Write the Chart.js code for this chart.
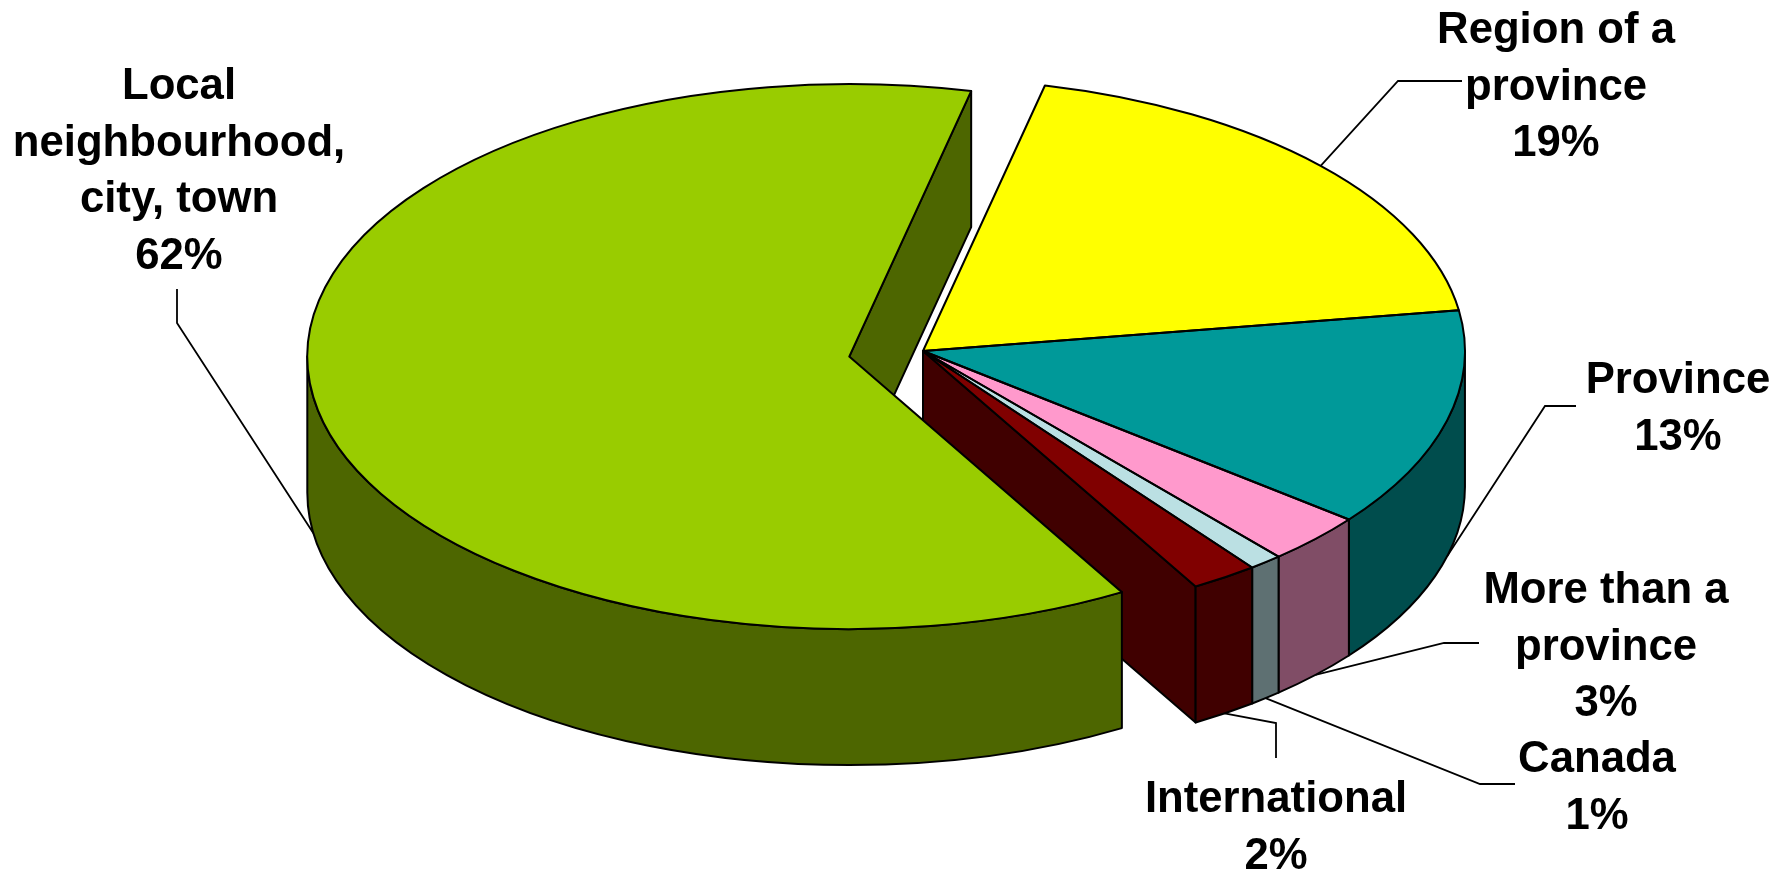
<!DOCTYPE html>
<html>
<head>
<meta charset="utf-8">
<title>Pie</title>
<script src="https://cdn.jsdelivr.net/npm/chart.js@4"></script>
<style>
  html, body { margin: 0; padding: 0; background: #fff; overflow: hidden; }
  canvas { display: block; }
</style>
</head>
<body>
<canvas id="myChart" width="1788" height="872"></canvas>
<script>
// data
const categories = [
  ['Region of a', 'province'],
  ['Province'],
  ['More than a', 'province'],
  ['Canada'],
  ['International'],
  ['Local', 'neighbourhood,', 'city, town']
];
const shares = [19, 13, 3, 1, 2, 62];
const topColors = ['#ffff00', '#009999', '#ff99cc', '#bbe0e3', '#800000', '#99cc00'];
const sideColors = ['#808000', '#004d4d', '#804d66', '#5e7072', '#400000', '#4d6600'];

// label placement: centre x and first baseline
const labelX = [1556, 1678, 1606, 1597, 1276, 179];
const labelY = [43, 393, 603, 772, 812, 99];
const LINE_HEIGHT = 56.5;
// leader lines: elbow points after the point on the slice edge
const leaderElbows = [
  [[1398, 81], [1462, 81]],
  [[1545, 406], [1576, 406]],
  [[1444, 643], [1479, 643]],
  [[1480, 784], [1515, 784]],
  [[1276, 723], [1276, 758]],
  [[177, 323], [177, 289]]
];

// fake 3d: the round pie is squashed and moved with these
const PIE_X = 923;
const PIE_Y = 351;
const SCALE_X = 1.243;
const SCALE_Y = 0.625;
const DEPTH = 136;
const EXPLODE = 60;       // how far the big slice is pulled out
const EXPLODED = 5;
const FRONT_FACES = [5, 4];   // cut faces that can be seen

function toScreen (chart, x, y)
{
  const area = chart.chartArea;
  const midX = (area.left + area.right) / 2;
  const midY = (area.top + area.bottom) / 2;
  return { x: PIE_X + (x - midX) * SCALE_X, y: PIE_Y + (y - midY) * SCALE_Y };
}

function arcInfo (chart, arc)
{
  const c = toScreen(chart, arc.x, arc.y);
  return {
    x: c.x,
    y: c.y,
    rx: arc.outerRadius * SCALE_X,
    ry: arc.outerRadius * SCALE_Y,
    start: arc.startAngle,
    end: arc.endAngle
  };
}

function drawWall (ctx, a, color)
{
  const lo = Math.max(a.start, 0);
  const hi = Math.min(a.end, Math.PI);
  if (hi <= lo) return;
  ctx.beginPath();
  ctx.ellipse(a.x, a.y, a.rx, a.ry, 0, lo, hi);
  ctx.ellipse(a.x, a.y + DEPTH, a.rx, a.ry, 0, hi, lo, true);
  ctx.closePath();
  ctx.fillStyle = color;
  ctx.fill();
  ctx.stroke();
}

function drawCutFace (ctx, a, color)
{
  const ex = a.x + Math.cos(a.end) * a.rx;
  const ey = a.y + Math.sin(a.end) * a.ry;
  ctx.beginPath();
  ctx.moveTo(a.x, a.y);
  ctx.lineTo(ex, ey);
  ctx.lineTo(ex, ey + DEPTH);
  ctx.lineTo(a.x, a.y + DEPTH);
  ctx.closePath();
  ctx.fillStyle = color;
  ctx.fill();
  ctx.stroke();
}

function drawLeaders (chart, ctx, arcs)
{
  ctx.strokeStyle = '#000';
  ctx.lineWidth = 1.8;
  arcs.forEach(function (arc, i) {
    const a = arcInfo(chart, arc);
    const mid = (a.start + a.end) / 2;
    const down = Math.sin(mid) > 0.2 || i === EXPLODED ? DEPTH : 0;
    ctx.beginPath();
    ctx.moveTo(a.x + Math.cos(mid) * a.rx, a.y + Math.sin(mid) * a.ry + down);
    leaderElbows[i].forEach(function (p) { ctx.lineTo(p[0], p[1]); });
    ctx.stroke();
  });
}

const pie3d = {
  id: 'pie3d',
  afterDatasetsUpdate: function (chart) {
    // pull the big slice out without making it bigger
    const arc = chart.getDatasetMeta(0).data[EXPLODED];
    const mid = (arc.startAngle + arc.endAngle) / 2;
    arc.x += Math.cos(mid) * EXPLODE;
    arc.y += Math.sin(mid) * EXPLODE;
  },
  beforeDatasetsDraw: function (chart) {
    const ctx = chart.ctx;
    const arcs = chart.getDatasetMeta(0).data;
    ctx.save();
    drawLeaders(chart, ctx, arcs);
    ctx.strokeStyle = '#000';
    ctx.lineWidth = 2;
    ctx.lineJoin = 'round';
    FRONT_FACES.forEach(function (i) {
      drawCutFace(ctx, arcInfo(chart, arcs[i]), sideColors[i]);
    });
    arcs.forEach(function (arc, i) {
      drawWall(ctx, arcInfo(chart, arc), sideColors[i]);
    });
    ctx.restore();

    // the library draws the tops squashed
    const area = chart.chartArea;
    ctx.save();
    ctx.translate(PIE_X, PIE_Y);
    ctx.scale(SCALE_X, SCALE_Y);
    ctx.translate(-(area.left + area.right) / 2, -(area.top + area.bottom) / 2);
  },
  afterDatasetsDraw: function (chart) {
    const ctx = chart.ctx;
    ctx.restore();
    // outline of the tops, same width all round
    ctx.save();
    ctx.strokeStyle = '#000';
    ctx.lineWidth = 2;
    ctx.lineJoin = 'round';
    chart.getDatasetMeta(0).data.forEach(function (arc) {
      const a = arcInfo(chart, arc);
      ctx.beginPath();
      ctx.moveTo(a.x, a.y);
      ctx.ellipse(a.x, a.y, a.rx, a.ry, 0, a.start, a.end);
      ctx.closePath();
      ctx.stroke();
    });
    ctx.restore();
  },
  afterDraw: function (chart) {
    const ctx = chart.ctx;
    ctx.save();
    ctx.fillStyle = '#000';
    ctx.font = 'bold 43.7px "Liberation Sans", Arial, sans-serif';
    ctx.textAlign = 'center';
    ctx.textBaseline = 'alphabetic';
    categories.forEach(function (lines, i) {
      lines.concat([shares[i] + '%']).forEach(function (line, n) {
        ctx.fillText(line, labelX[i], labelY[i] + n * LINE_HEIGHT);
      });
    });
    ctx.restore();
  }
};

const myChart = new Chart(document.getElementById('myChart'), {
  type: 'pie',
  plugins: [pie3d],
  data: {
    labels: categories.map(function (c) { return c.join(' '); }),
    datasets: [{
      data: shares,
      backgroundColor: topColors,
      borderWidth: 0,
      clip: false
    }]
  },
  options: {
    responsive: false,
    animation: false,
    events: [],
    rotation: 13,
    layout: { padding: 0 },
    plugins: {
      legend: { display: false },
      tooltip: { enabled: false }
    }
  }
});
</script>
</body>
</html>
